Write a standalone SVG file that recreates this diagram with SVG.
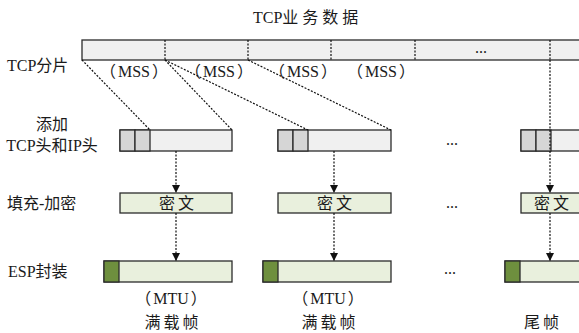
<svg xmlns="http://www.w3.org/2000/svg" width="579" height="333" viewBox="0 0 579 333">
  <style>
    text { font-family: "Liberation Serif", "Noto Sans CJK SC", serif; font-size: 16px; fill: #1a1a1a; }
    .mid { text-anchor: middle; }
    .cjk { letter-spacing: 3px; }
    .box { stroke: #2b2b2b; stroke-width: 1.3; }
    .seg { fill: #f0f0f0; }
    .hdr { fill: #d6d6d6; }
    .enc { fill: #e9f0dd; }
    .esp { fill: #6e8f3e; }
    .dash { fill: none; stroke: #111; stroke-width: 1.2; stroke-dasharray: 2 1.5; }
  </style>
  <defs>
    <marker id="arrow" markerWidth="9" markerHeight="9" refX="8" refY="4.5" orient="auto" markerUnits="userSpaceOnUse">
      <path d="M0,0.5 L8,4.5 L0,8.5 z" fill="#111"/>
    </marker>
  </defs>

  <rect width="579" height="333" fill="#ffffff"/>

  <!-- Row labels -->
  <text x="253" y="23">TCP<tspan letter-spacing="4">业务数据</tspan></text>
  <text x="7" y="71" font-size="17">TCP分片</text>
  <text class="mid" x="52" y="130">添加</text>
  <text class="mid" x="52" y="151">TCP头和IP头</text>
  <text x="7" y="209" font-size="17">填充-加密</text>
  <text x="8" y="277" font-size="17">ESP封装</text>

  <!-- TCP payload split into MSS segments -->
  <g id="tcp-data">
    <rect class="box seg" x="82" y="40" width="520" height="20"/>
    <path class="dash" d="M165,40V60 M248,40V60 M331,40V60 M415,40V60 M550,40V60"/>
    <text class="mid" x="481" y="53">...</text>
    <text class="mid" x="134" y="77">（<tspan dx="2">MSS</tspan><tspan dx="2">）</tspan></text>
    <text class="mid" x="219" y="77">（<tspan dx="2">MSS</tspan><tspan dx="2">）</tspan></text>
    <text class="mid" x="303" y="77">（<tspan dx="2">MSS</tspan><tspan dx="2">）</tspan></text>
    <text class="mid" x="381" y="77">（<tspan dx="2">MSS</tspan><tspan dx="2">）</tspan></text>
  </g>

  <!-- Segments with TCP and IP headers -->
  <g id="hdr-1">
    <rect class="box seg" x="120" y="130" width="112" height="21"/>
    <rect class="box hdr" x="120" y="130" width="15" height="21"/>
    <rect class="box hdr" x="135" y="130" width="15" height="21"/>
  </g>
  <g id="hdr-2">
    <rect class="box seg" x="278" y="130" width="113" height="21"/>
    <rect class="box hdr" x="278" y="130" width="15" height="21"/>
    <rect class="box hdr" x="293" y="130" width="15" height="21"/>
  </g>
  <g id="hdr-n">
    <rect class="box seg" x="521" y="130" width="80" height="21"/>
    <rect class="box hdr" x="521" y="130" width="15" height="21"/>
    <rect class="box hdr" x="536" y="130" width="15" height="21"/>
  </g>
  <text class="mid" x="452" y="145">...</text>

  <!-- Padded and encrypted payloads -->
  <g id="enc-1">
    <rect class="box enc" x="120" y="193" width="112" height="20"/>
    <text class="mid cjk" x="178" y="209">密文</text>
  </g>
  <g id="enc-2">
    <rect class="box enc" x="278" y="193" width="113" height="20"/>
    <text class="mid cjk" x="336" y="209">密文</text>
  </g>
  <g id="enc-n">
    <rect class="box enc" x="521" y="193" width="80" height="20"/>
    <text class="mid cjk" x="553" y="209">密文</text>
  </g>
  <text class="mid" x="452" y="208">...</text>

  <!-- ESP frames -->
  <g id="esp-1">
    <rect class="box enc" x="104" y="261" width="128" height="21"/>
    <rect class="box esp" x="104" y="261" width="15" height="21"/>
    <text class="mid" x="171" y="304">（<tspan dx="2">MTU</tspan><tspan dx="2">）</tspan></text>
    <text class="mid cjk" x="173" y="328">满载帧</text>
  </g>
  <g id="esp-2">
    <rect class="box enc" x="263" y="261" width="128" height="21"/>
    <rect class="box esp" x="263" y="261" width="15" height="21"/>
    <text class="mid" x="328" y="304">（<tspan dx="2">MTU</tspan><tspan dx="2">）</tspan></text>
    <text class="mid cjk" x="330" y="328">满载帧</text>
  </g>
  <g id="esp-n">
    <rect class="box enc" x="505" y="261" width="96" height="21"/>
    <rect class="box esp" x="505" y="261" width="15" height="21"/>
    <text class="mid cjk" x="543" y="328">尾帧</text>
  </g>
  <text class="mid" x="450" y="274">...</text>

  <!-- Connectors -->
  <g id="connectors">
    <path class="dash" d="M82,60L150,130"/>
    <path class="dash" d="M165,60L232,130"/>
    <path class="dash" d="M165,60L308,130"/>
    <path class="dash" d="M248,60L391,130"/>
    <path class="dash" d="M550,60V193" marker-end="url(#arrow)"/>
    <path class="dash" d="M176,151V193" marker-end="url(#arrow)"/>
    <path class="dash" d="M334,151V193" marker-end="url(#arrow)"/>
    <path class="dash" d="M176,213V261" marker-end="url(#arrow)"/>
    <path class="dash" d="M334,213V261" marker-end="url(#arrow)"/>
    <path class="dash" d="M550,213V261" marker-end="url(#arrow)"/>
  </g>
</svg>
